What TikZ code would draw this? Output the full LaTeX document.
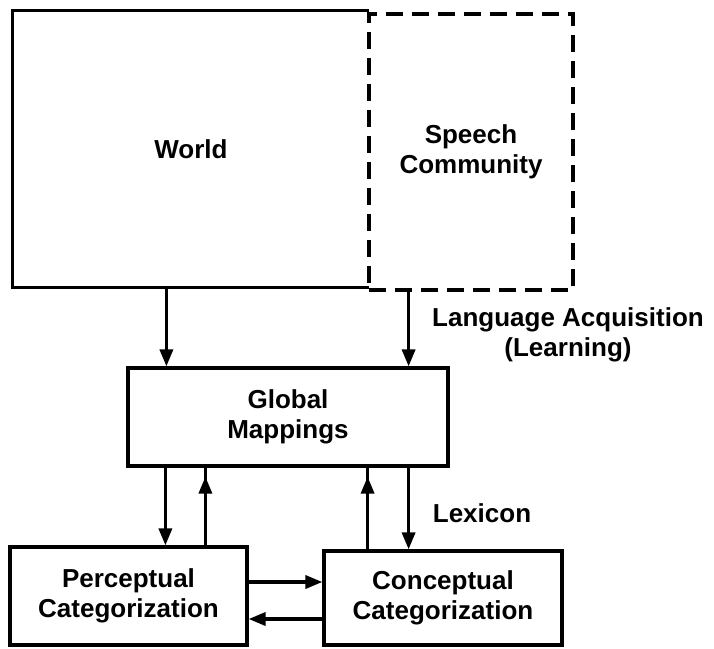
\documentclass[tikz,border=0pt]{standalone}
\usepackage{fontspec}
\setmainfont{Liberation Sans}
\usetikzlibrary{arrows.meta,positioning,calc,decorations.markings}

\tikzset{
  box/.style={draw, line width=3.2pt, inner sep=0pt, align=center,
    font=\bfseries\fontsize{26}{30}\selectfont},
  lbl/.style={align=center, font=\bfseries\fontsize{26}{30}\selectfont},
  arr/.style={line width=3.4pt, -{Triangle[length=17pt,width=13pt]}},
  uparr/.style={line width=3.4pt, decoration={markings,
    mark=at position -9pt with {\arrow{Triangle[length=17pt,width=13pt]}}},
    postaction=decorate}
}

\begin{document}
\begin{tikzpicture}[x=1pt,y=-1pt]
    \useasboundingbox (0,0) rectangle (714,648);
    \node[lbl, minimum width=356pt, minimum height=276pt] (world) at (191,149) {World};
    \draw[line width=3.2pt] (world.north east) -- (world.north west)
        -- (world.south west) -- (world.south east);
    \node[box, dash pattern=on 17pt off 9pt, minimum width=204pt, minimum height=276pt]
        (speech) at (471,152) {Speech\\Community};
    \node[box, minimum width=320pt, minimum height=98pt] (global) at (288,417) {Global\\Mappings};
    \node[box, minimum width=237pt, minimum height=98pt] (percep) at (128.5,596) {Perceptual\\Categorization};
    \node[box, minimum width=238pt, minimum height=94pt] (concep) at (443,598) {Conceptual\\Categorization};
    \node[lbl] (acq) at (568,335) {Language Acquisition\\(Learning)};
    \node[lbl] (lex) at (482,513) {Lexicon};

    \coordinate (a) at ([xshift=40pt]global.north west);
    \coordinate (b) at ([xshift=-41pt]global.north east);
    \coordinate (c) at ([xshift=39pt]global.south west);
    \coordinate (d) at ([xshift=79pt]global.south west);
    \coordinate (e) at ([xshift=-82pt]global.south east);
    \coordinate (f) at ([xshift=-41pt]global.south east);
    \coordinate (g) at ([yshift=14pt]percep.east);
    \coordinate (h) at ([yshift=-23pt]percep.east);

    \draw[arr] (world.south -| a) -- (a);
    \draw[arr] (speech.south -| b) -- (b);
    \draw[arr] (c) -- (c |- percep.north);
    \draw[uparr] (d |- percep.north) -- (d);
    \draw[uparr] (e |- concep.north) -- (e);
    \draw[arr] (f) -- (f |- concep.north);
    \draw[arr] (g) -- (g -| concep.west);
    \draw[arr] (h -| concep.west) -- (h);
\end{tikzpicture}
\end{document}
